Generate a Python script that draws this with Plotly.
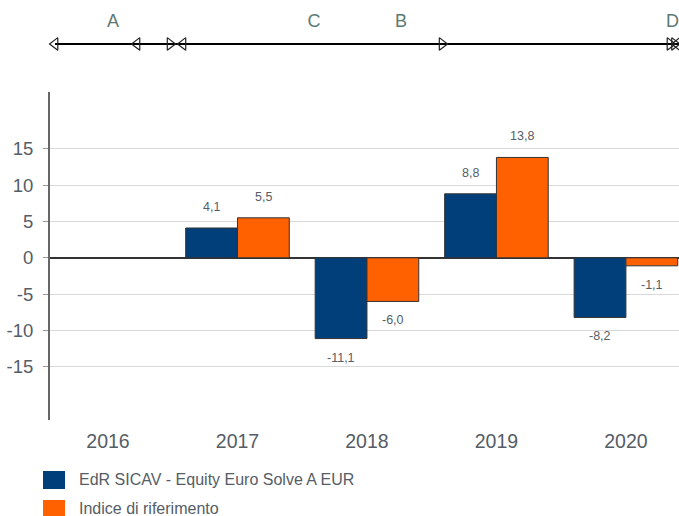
import plotly.graph_objects as go

years = ["2016", "2017", "2018", "2019", "2020"]
fund_name = "EdR SICAV - Equity Euro Solve A EUR"
index_name = "Indice di riferimento"
fund_values = [None, 4.1, -11.1, 8.8, -8.2]
index_values = [None, 5.5, -6.0, 13.8, -1.1]
y_ticks = [-15, -10, -5, 0, 5, 10, 15]

# timeline (positions in category units on the same x scale)
timeline_start = -0.409
timeline_end = 4.45
timeline_markers_x = [-0.409, 0.224, 0.479, 0.579, 2.580, 4.340, 4.375, 4.395]
timeline_markers_sym = ["triangle-left-open", "triangle-left-open", "triangle-right-open",
                        "triangle-left-open", "triangle-right-open", "triangle-right-open",
                        "triangle-right-open", "triangle-left-open"]
timeline_labels = ["A", "C", "B", "D"]
timeline_labels_x = [0.039, 1.591, 2.263, 4.36]

BLUE = "#003f7a"
ORANGE = "#ff6000"
TXT = "#555d66"
FONT = "Liberation Sans, Arial, sans-serif"

xs = list(range(len(years)))
fig = go.Figure()
fig.add_trace(go.Bar(x=xs, y=fund_values, name=fund_name, marker=dict(color=BLUE, line=dict(color="#333", width=1)),
                     showlegend=False))
fig.add_trace(go.Bar(x=xs, y=index_values, name=index_name, marker=dict(color=ORANGE, line=dict(color="#333", width=1)),
                     showlegend=False))

# timeline
fig.add_trace(go.Scatter(x=[timeline_start, timeline_end], y=[0.667, 0.667], mode="lines",
                         line=dict(color="black", width=2), xaxis="x2", yaxis="y2", showlegend=False,
                         hoverinfo="skip", cliponaxis=False))
fig.add_trace(go.Scatter(x=timeline_markers_x, y=[0.667] * len(timeline_markers_x), mode="markers",
                         marker=dict(symbol=timeline_markers_sym, size=11, color="#222",
                                     line=dict(width=1.2, color="#222")),
                         xaxis="x2", yaxis="y2", showlegend=False, cliponaxis=False))
fig.add_trace(go.Scatter(x=timeline_labels_x, y=[0.96] * len(timeline_labels_x), mode="text",
                         text=timeline_labels, textfont=dict(size=18, color="#5b7a73", family=FONT),
                         xaxis="x2", yaxis="y2", showlegend=False, cliponaxis=False))

annotations = []
for i, (f, ix) in enumerate(zip(fund_values, index_values)):
    for v, dx in ((f, -0.2), (ix, 0.2)):
        if v is None:
            continue
        annotations.append(dict(x=i + dx, y=v, xref="x", yref="y",
                                text=f"{v:.1f}".replace(".", ","), showarrow=False,
                                yshift=21 if v >= 0 else -19,
                                font=dict(size=12.5, color=TXT, family=FONT)))

# manual legend
shapes = []
for k, (name, col) in enumerate(((fund_name, BLUE), (index_name, ORANGE))):
    pc = 480 + 29 * k
    y0 = (420 - (pc + 9)) / 400
    y1 = (420 - (pc - 9)) / 400
    shapes.append(dict(type="rect", xref="paper", yref="paper", x0=(43 - 50) / 629, x1=(65 - 50) / 629,
                       y0=y0, y1=y1, fillcolor=col, line=dict(width=0)))
    annotations.append(dict(x=(77 - 50) / 629, y=(420 - pc) / 400, xref="paper", yref="paper",
                            xanchor="left", yanchor="middle", text=name, showarrow=False,
                            font=dict(size=16, color=TXT, family=FONT)))

fig.update_layout(
    width=679, height=516,
    margin=dict(l=50, r=0, t=20, b=96),
    paper_bgcolor="white", plot_bgcolor="white",
    barmode="group", bargap=0.2, bargroupgap=0,
    font=dict(family=FONT, color=TXT),
    xaxis=dict(range=[-0.448, 4.41], tickvals=xs, ticktext=years, showgrid=False, zeroline=False,
               showline=False, ticks="", tickfont=dict(size=19.5, color=TXT), anchor="y", fixedrange=True,
               ticklabelstandoff=7),
    yaxis=dict(domain=[0, 0.82], range=[-22.3, 22.8], tickvals=y_ticks, ticktext=[str(t) for t in y_ticks],
               showgrid=True, gridcolor="#d9d9d9", gridwidth=1, zeroline=True, zerolinecolor="#333",
               zerolinewidth=1.5, showline=True, linecolor="#666", linewidth=2, ticks="outside",
               ticklen=5, tickcolor="#999", tickfont=dict(size=18.5, color=TXT), ticklabelstandoff=6),
    xaxis2=dict(matches="x", anchor="y2", visible=False),
    yaxis2=dict(domain=[0.82, 1.0], range=[0, 1], visible=False),
    shapes=shapes, annotations=annotations,
)

fig.write_html("out.html", config={"displayModeBar": False},
               post_script="document.body.style.margin='0';document.body.style.overflow='hidden';")
